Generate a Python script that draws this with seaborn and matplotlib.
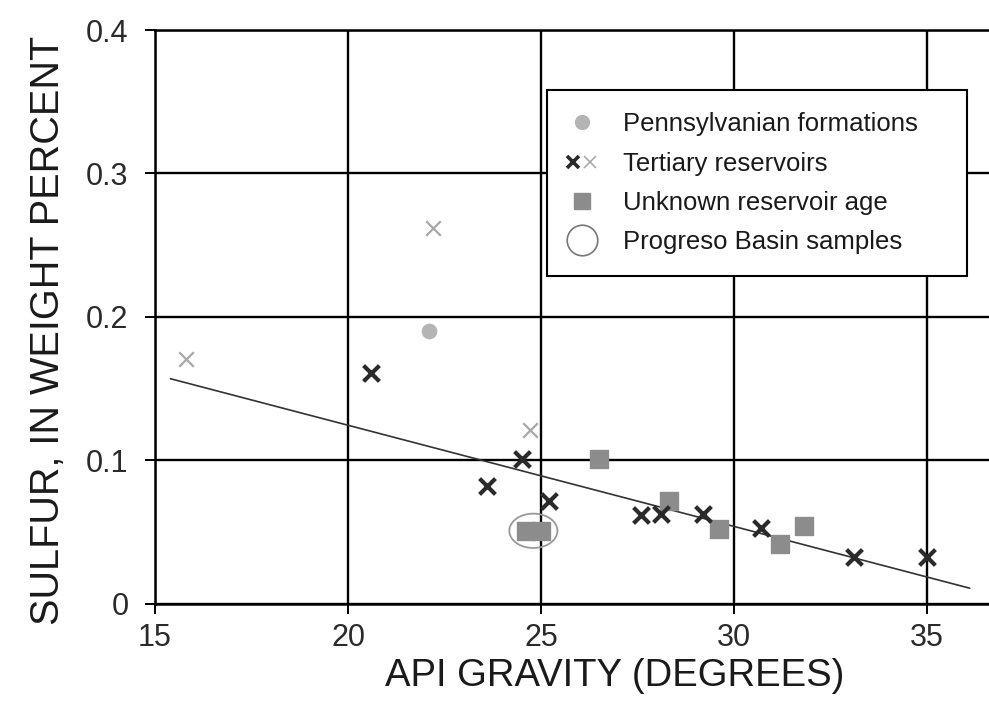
import matplotlib
matplotlib.use("Agg")
import matplotlib.pyplot as plt
import seaborn as sns
from matplotlib.lines import Line2D
from matplotlib.path import Path
from matplotlib.legend_handler import HandlerTuple
import numpy as np

# ---------- DATA ----------
penn_api = [22.1]
penn_sulfur = [0.19]

tert_api = [20.6, 23.6, 24.5, 25.2, 27.6, 28.1, 29.2, 30.7, 33.1, 35.0]
tert_sulfur = [0.161, 0.082, 0.101, 0.072, 0.062, 0.063, 0.063, 0.053, 0.033, 0.033]

tert_light_api = [15.8, 22.2, 24.7]
tert_light_sulfur = [0.171, 0.262, 0.121]

unk_api = [26.5, 28.3, 29.6, 31.2, 31.8, 24.6, 25.0]
unk_sulfur = [0.101, 0.072, 0.052, 0.042, 0.054, 0.051, 0.051]

prog_api = [24.6, 25.0]
prog_sulfur = [0.051, 0.051]

trend_api = [15.4, 36.1]
trend_sulfur = [0.157, 0.011]
# --------------------------------------------------------

sns.set_style("white")
plt.rcParams["font.family"] = ["Liberation Sans", "DejaVu Sans"]
plt.rcParams["text.color"] = "#1a1a1a"
plt.rcParams["axes.labelcolor"] = "#1a1a1a"

fig = plt.figure(figsize=(9.89, 7.06), dpi=100)
ax = fig.add_axes([0.1567, 0.1445, 0.8433, 0.813])

DARK = "#2a2a2a"
LIGHT = "#a8a8a8"
SQUARE = "#8c8c8c"
PENN = "#b4b4b4"

# wide ellipse marker used to ring the Progreso Basin pair
t = np.linspace(0, 2 * np.pi, 60)
ellipse = Path(np.column_stack([1.4 * np.cos(t), np.sin(t)]))

# trend line
sns.lineplot(x=trend_api, y=trend_sulfur, ax=ax, color="#333333", lw=1.2,
             sort=False, zorder=3)

sns.scatterplot(x=penn_api, y=penn_sulfur, ax=ax, marker="o", s=110,
                color=PENN, edgecolor=PENN, zorder=4)
sns.scatterplot(x=[np.mean(prog_api)], y=[np.mean(prog_sulfur)], ax=ax,
                marker=ellipse, s=1200, facecolor="none", edgecolor="#999999",
                linewidth=1.3, zorder=4)
sns.scatterplot(x=unk_api, y=unk_sulfur, ax=ax, marker="s", s=150,
                color=SQUARE, edgecolor=SQUARE, zorder=5)
sns.scatterplot(x=tert_light_api, y=tert_light_sulfur, ax=ax, marker="x",
                s=110, color=LIGHT, linewidth=1.6, zorder=5)
sns.scatterplot(x=tert_api, y=tert_sulfur, ax=ax, marker="x", s=130,
                color=DARK, linewidth=3, zorder=6)

ax.set_xlim(15, 36.6)
ax.set_ylim(0, 0.4)
ax.set_xticks([15, 20, 25, 30, 35])
ax.set_yticks([0, 0.1, 0.2, 0.3, 0.4])
ax.set_yticklabels(["0", "0.1", "0.2", "0.3", "0.4"])

ax.grid(True, color="black", lw=1.7)
ax.set_axisbelow(True)
for side in ["left", "bottom", "top"]:
    ax.spines[side].set_color("black")
    ax.spines[side].set_linewidth(1.8)
ax.spines["right"].set_visible(False)
ax.tick_params(direction="out", length=7, width=1.4, color="black",
               labelcolor="#2a2a2a", labelsize=22, bottom=True, left=True)
ax.tick_params(axis="x", pad=7)
ax.tick_params(axis="y", pad=12)

ax.set_xlabel("API GRAVITY (DEGREES)", fontsize=27.5)
ax.set_ylabel("SULFUR, IN WEIGHT PERCENT", fontsize=28.5)
ax.xaxis.set_label_coords(0.5516, -0.094)
ax.yaxis.set_label_coords(-0.105, 0.477)

# legend
h_penn = Line2D([], [], ls="none", marker="o", ms=10, color=PENN, mec=PENN)
h_tert_d = Line2D([], [], ls="none", marker="x", ms=9, mew=2.6, color=DARK)
h_tert_l = Line2D([], [], ls="none", marker="x", ms=9, mew=1.2, color=LIGHT)
h_unk = Line2D([], [], ls="none", marker="s", ms=11, color=SQUARE, mec=SQUARE)
h_prog = Line2D([], [], ls="none", marker="o", ms=22, mfc="none",
                mec="#777777", mew=1.2)

leg = ax.legend([h_penn, (h_tert_d, h_tert_l), h_unk, h_prog],
                ["Pennsylvanian formations", "Tertiary reservoirs",
                 "Unknown reservoir age", "Progreso Basin samples"],
                handler_map={tuple: HandlerTuple(ndivide=None, pad=0.3)},
                loc="upper left", bbox_to_anchor=(0.47, 0.577, 0.504, 0.318),
                mode="expand", borderaxespad=0, fontsize=18.5, frameon=True,
                fancybox=False, edgecolor="black", framealpha=1,
                borderpad=0.85, handlelength=1.0, handletextpad=1.1,
                labelspacing=0.6)
leg.get_frame().set_linewidth(1.5)

fig.savefig("out.png", dpi=100)
